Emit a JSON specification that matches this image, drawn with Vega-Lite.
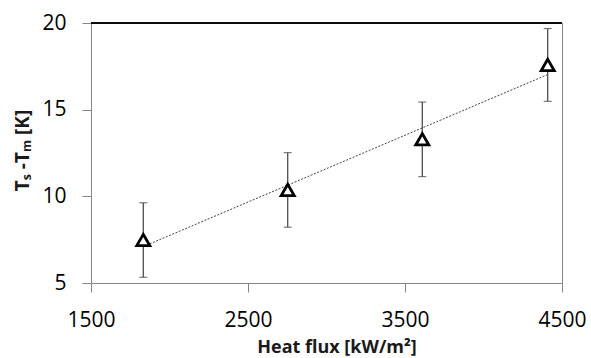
{
  "$schema": "https://vega.github.io/schema/vega-lite/v6.json",
  "width": 471,
  "height": 260,
  "autosize": {"type": "none"},
  "padding": {"left": 91, "top": 23, "right": 29, "bottom": 75},
  "background": "white",
  "config": {
    "view": {"stroke": "#868686", "strokeWidth": 1},
    "font": "Open Sans"
  },
  "data": {
    "values": [
      {"flux": 1833, "dT": 7.48, "err": 2.15},
      {"flux": 2753, "dT": 10.37, "err": 2.15},
      {"flux": 3610, "dT": 13.29, "err": 2.15},
      {"flux": 4409, "dT": 17.58, "err": 2.1}
    ]
  },
  "encoding": {
    "x": {
      "field": "flux", "type": "quantitative",
      "scale": {"domain": [1500, 4500], "nice": false, "zero": false},
      "axis": {
        "values": [1500, 2500, 3500, 4500],
        "format": "d",
        "title": "Heat flux [kW/m²]",
        "titleFont": "Open Sans", "titleFontWeight": "bold", "titleFontSize": 18, "titleColor": "#1a1a1a",
        "titleX": 245.5, "titleY": 55, "titleAnchor": "middle", "titleBaseline": "top",
        "labelFont": "Open Sans", "labelFontSize": 21, "labelColor": "#000000",
        "labelPadding": 17, "tickSize": 9, "tickColor": "#868686", "domainColor": "#868686",
        "grid": false, "labelFlush": false
      }
    },
    "y": {
      "field": "dT", "type": "quantitative",
      "scale": {"domain": [5, 20], "nice": false, "zero": false},
      "axis": {
        "values": [5, 10, 15, 20],
        "format": "d",
        "title": "Tₛ -Tₘ [K]",
        "titleFont": "Open Sans", "titleFontWeight": "bold", "titleFontSize": 19, "titleColor": "#1a1a1a",
        "titleX": -69, "titleY": 127, "titleAngle": -90, "titleBaseline": "middle", "titleAnchor": "middle",
        "labelFont": "Open Sans", "labelFontSize": 21, "labelColor": "#000000",
        "labelPadding": 16, "tickSize": 9, "tickColor": "#868686", "domainColor": "#868686",
        "grid": false, "labelFlush": false
      }
    }
  },
  "layer": [
    {
      "mark": {"type": "rule", "color": "#000000", "strokeWidth": 1},
      "encoding": {"y": {"datum": 20}, "x": null}
    },
    {
      "transform": [{"regression": "dT", "on": "flux", "method": "linear", "extent": [1833, 4409]}],
      "mark": {"type": "line", "color": "#444444", "strokeWidth": 1, "strokeDash": [2, 1.5]}
    },
    {
      "mark": {
        "type": "errorbar",
        "rule": {"color": "#404040", "strokeWidth": 1.2},
        "ticks": {"color": "#404040", "size": 8, "thickness": 1.2}
      },
      "encoding": {"yError": {"field": "err"}}
    },
    {
      "mark": {"type": "point", "shape": "triangle-up", "size": 170, "filled": false, "stroke": "#000000", "strokeWidth": 2.8, "fill": "white", "fillOpacity": 1, "opacity": 1}
    }
  ]
}
